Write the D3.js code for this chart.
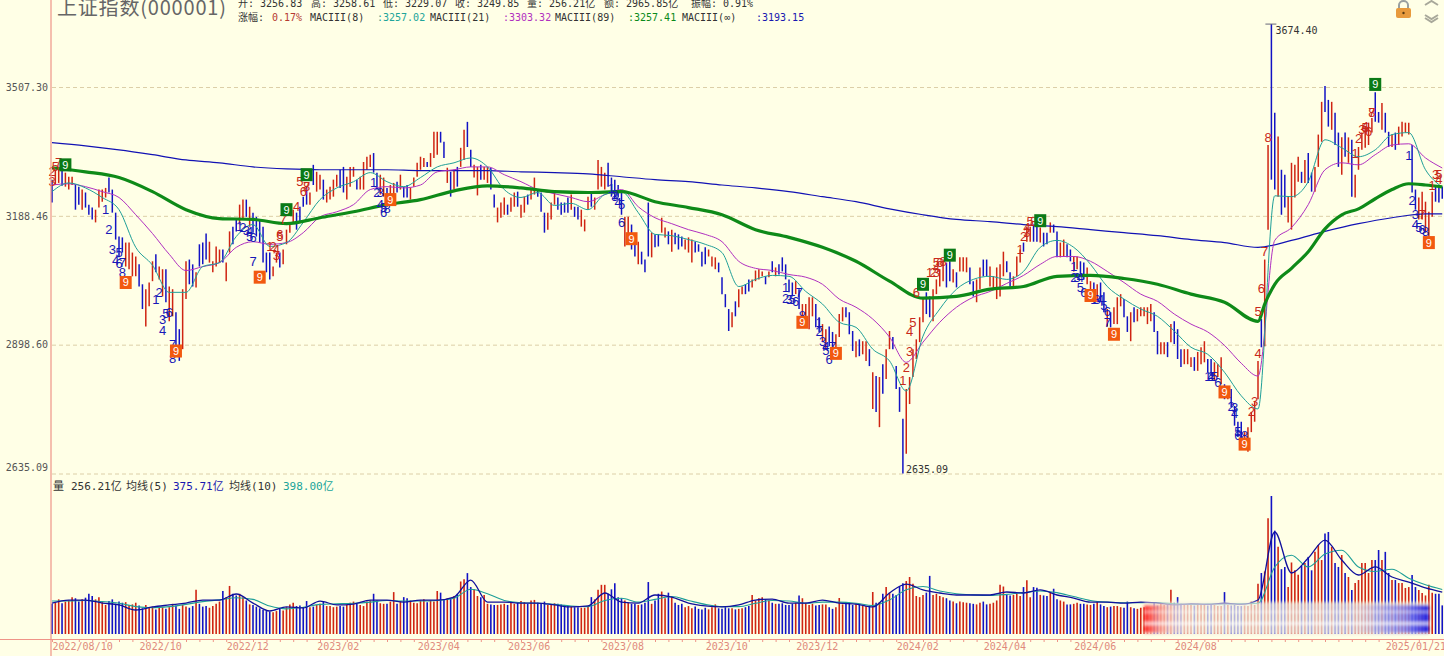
<!DOCTYPE html>
<html>
<head>
<meta charset="utf-8">
<script src="https://cdn.jsdelivr.net/npm/d3@7/dist/d3.min.js"></script>
<style>
  html, body {margin: 0; padding: 0; background: #ffffe6; overflow: hidden;}
  text {font-family: "DejaVu Sans Mono", "Noto Sans CJK SC", monospace;}
</style>
</head>
<body>
<div class="chart"></div>
<script>
// daily bars, ten per row
var highs = [
3275,3299,3304,3299,3292,3282,3282,3262,3258,3251,
3244,3215,3208,3203,3251,3251,3255,3280,3251,3196,
3140,3138,3126,3126,3103,3094,3076,3031,3020,3035,
3083,3099,3071,3065,3065,3026,3020,2969,2932,3020,
3083,3087,3076,3058,3122,3126,3147,3128,3083,3117,
3110,3110,3080,3152,3163,3180,3215,3227,3227,3210,
3196,3186,3180,3163,3103,3103,3071,3103,3103,3110,
3156,3173,3203,3196,3210,3234,3258,3244,3311,3294,
3287,3275,3251,3258,3275,3287,3299,3306,3282,3306,
3306,3275,3282,3318,3331,3336,3340,3292,3287,3280,
3255,3262,3267,3270,3287,3258,3262,3255,3280,3316,
3331,3328,3318,3340,3393,3393,3393,3368,3304,3294,
3299,3306,3353,3398,3418,3348,3311,3306,3311,3306,
3306,3304,3239,3208,3220,3232,3215,3232,3244,3246,
3215,3234,3239,3251,3280,3251,3244,3196,3196,3220,
3246,3232,3220,3220,3232,3239,3210,3210,3203,3180,
3234,3244,3232,3323,3306,3292,3316,3280,3275,3262,
3244,3186,3186,3168,3138,3128,3105,3087,3220,3149,
3145,3145,3184,3161,3152,3156,3149,3145,3140,3133,
3138,3133,3128,3122,3105,3115,3110,3094,3092,3080,
3047,3009,2976,2969,2993,3020,3026,3031,3042,3042,
3062,3065,3060,3049,3060,3083,3069,3076,3092,3076,
3042,3035,3038,3020,2987,2987,3002,3002,2987,2958,
2943,2932,2938,2926,2921,2965,2980,2980,2969,2928,
2906,2910,2906,2906,2889,2840,2832,2830,2857,2889,
2928,2915,2853,2809,2744,2805,2830,2889,2910,2958,
2998,3013,3004,3020,3042,3065,3087,3080,3083,3065,
3058,3092,3092,3092,3069,3038,3042,3069,3087,3087,
3071,3049,3069,3076,3105,3083,3058,3049,3094,3110,
3126,3163,3163,3168,3168,3161,3149,3149,3173,3168,
3152,3126,3133,3122,3110,3094,3094,3083,3080,3069,
3038,3035,3031,3035,3013,2976,2969,2980,3002,3009,
2998,2960,2969,2980,2976,2980,2980,2980,2987,2969,
2928,2904,2904,2904,2943,2949,2932,2889,2889,2889,
2872,2872,2883,2893,2906,2868,2868,2861,2857,2872,
2815,2809,2805,2770,2738,2738,2717,2727,2758,2778,
2864,2954,3087,3360,3674.40,3441,3381,3299,3287,3234,
3316,3311,3331,3294,3323,3340,3292,3306,3386,3469,
3510,3474,3469,3441,3391,3379,3391,3379,3373,3287,
3355,3391,3406,3416,3428,3494,3443,3466,3441,3393,
3386,3391,3406,3418,3416,3416,3360,3251,3232,3246,
3222,3198,3246,3262,3262,3258.61]

var lows = [
3220,3262,3267,3260,3258,3251,3262,3203,3215,3203,
3208,3191,3180,3173,3208,3222,3232,3244,3196,3133,
3092,3103,3071,3065,3049,3049,3026,2976,2938,2982,
3038,3058,3042,3004,2991,2949,2960,2895,2864,2889,
2998,3031,3026,3024,3071,3076,3087,3080,3058,3071,
3080,3080,3038,3103,3122,3152,3168,3180,3186,3163,
3149,3140,3126,3080,3058,3042,3049,3080,3069,3076,
3122,3149,3173,3156,3173,3210,3215,3215,3262,3246,
3251,3227,3220,3227,3234,3258,3255,3244,3227,3258,
3282,3251,3251,3251,3299,3306,3292,3251,3239,3234,
3210,3222,3232,3244,3251,3232,3232,3227,3258,3282,
3299,3306,3306,3306,3328,3336,3366,3328,3267,3234,
3251,3258,3306,3323,3355,3306,3280,3237,3275,3275,
3267,3251,3208,3173,3184,3191,3191,3198,3210,3210,
3184,3196,3215,3227,3239,3234,3198,3149,3156,3180,
3215,3203,3191,3196,3196,3203,3186,3180,3163,3152,
3203,3210,3203,3251,3258,3251,3258,3234,3227,3232,
3191,3117,3133,3110,3094,3076,3076,3058,3094,3092,
3115,3117,3149,3138,3122,3105,3122,3110,3117,3110,
3103,3080,3103,3105,3071,3076,3094,3071,3065,3058,
3009,2980,2928,2936,2960,2980,3009,3009,3015,3024,
3038,3042,3049,3031,3047,3058,3049,3053,3060,3042,
3013,3004,3009,2976,2938,2954,2932,2960,2936,2926,
2904,2889,2895,2889,2893,2915,2949,2958,2921,2885,
2872,2874,2878,2864,2853,2764,2758,2727,2795,2826,
2889,2889,2805,2758,2635.09,2674,2774,2830,2868,2904,
2947,2965,2958,2949,3009,3026,3038,3024,3038,3035,
3024,3060,3060,3058,3031,3004,2991,3020,3049,3049,
3026,3020,2998,3004,3049,3058,3026,3024,3049,3080,
3105,3128,3128,3128,3128,3126,3117,3122,3149,3149,
3092,3092,3094,3092,3083,3060,3065,3047,3042,3031,
3004,2991,2991,2991,2969,2938,2936,2943,2943,2982,
2958,2926,2906,2947,2949,2960,2960,2943,2949,2926,
2878,2878,2878,2872,2904,2900,2868,2851,2857,2857,
2851,2843,2843,2857,2861,2840,2832,2822,2830,2815,
2784,2784,2768,2730,2707,2703,2690,2678,2717,2738,
2784,2893,2895,3156,3275,3251,3234,3191,3208,3173,
3156,3232,3270,3267,3267,3267,3246,3246,3306,3368,
3443,3406,3398,3360,3306,3287,3331,3316,3234,3232,
3299,3348,3353,3360,3391,3418,3416,3398,3391,3355,
3355,3348,3360,3381,3391,3386,3244,3203,3180,3180,
3149,3140,3186,3222,3220,3229.07]

// r = up day, b = down day
var updown = 'brrbrrrbbr' + 'bbbrrrrbbb' + 'bbrrrrbbrr' + 'rbrrbrrbbr' + 'rbbrbbbrrr' +
  'rbrrbbrrbr' + 'bbbbbbrrbr' + 'rrrbbbbrbr' + 'rbrrrrbbrr' + 'rbrrrrbbrr' +
  'brrbrbbrrr' + 'rrbrrrbbrb' + 'rbrrbbrrbr' + 'rbbrrrbrrb' + 'rrbrrbbbrr' +
  'rbbbbrbbrr' + 'rbrrrrbbbb' + 'brrbbrbbbr' + 'bbrrbrbbbr' + 'rrbbbbrrrb' +
  'bbbrbrrbbr' + 'rrrbrbrbbb' + 'bbrbrrrrbb' + 'rrbbrrrbbb' + 'rbrrbrbrbr' +
  'rbbbbrrrrr' + 'rbbrrrrbbr' + 'brrrbbrrbb' + 'rrrrrbbrrr' + 'brrbbrbbrb' +
  'brrbbrrbbr' + 'rbrbbrbrrr' + 'bbrbrrrrrb' + 'brrbrbbbrr' + 'rbrrrbbrrr' +
  'brbbbbrrrr' + 'rbrrbbrbbr' + 'rrrbrbbrrr' + 'bbrbbrbrbr' + 'rrrrrbbrbb' +
  'rbrrrrbbrr' + 'rrrbbb'

// volume, in 亿
var volumes = [
270,280,310,275,290,300,330,320,290,310,
325,360,340,310,330,285,260,295,310,270,
290,280,285,260,265,280,255,230,260,235,
245,220,235,240,225,240,270,255,225,260,
245,235,250,395,270,245,250,235,250,270,
290,385,330,430,360,345,360,330,300,265,
260,245,230,215,205,200,195,205,225,210,
240,265,280,250,255,240,295,240,245,260,
270,290,250,250,240,245,250,245,260,280,
290,270,260,250,290,300,360,300,275,270,
270,290,375,270,295,330,320,300,280,275,
300,310,285,300,290,385,370,310,320,320,
340,360,470,490,545,420,400,340,330,350,
270,265,260,260,265,270,260,285,270,280,
295,285,270,300,305,280,270,290,260,265,
275,270,265,260,250,245,240,240,235,235,
245,330,310,395,440,440,360,400,455,330,
320,300,280,270,270,260,265,280,465,270,
300,360,380,320,370,330,280,260,270,240,
250,230,245,225,220,235,220,240,265,230,
225,240,230,230,220,225,230,240,250,350,
300,320,330,310,300,280,270,270,275,260,
260,270,280,345,320,280,260,270,255,260,
265,265,240,225,240,322,265,280,280,260,
270,265,255,250,255,376,280,285,360,420,
370,360,350,430,455,474,510,450,340,330,
350,370,520,350,360,340,330,320,300,290,
275,290,285,280,275,270,265,280,290,265,
270,280,300,440,425,350,345,350,360,340,
420,480,330,420,415,350,345,340,370,405,
310,300,290,265,265,270,280,270,270,265,
260,270,290,265,250,240,245,250,250,240,
235,290,240,230,225,235,240,225,230,280,
255,270,260,265,395,280,330,270,260,265,
260,255,270,265,260,255,260,260,250,250,
375,260,255,260,250,250,255,250,290,260,
450,546,560,1035,1235,925,780,580,600,420,
640,570,530,610,635,690,570,735,797,662,
900,913,780,635,600,707,546,510,394,456,
483,635,635,546,662,662,752,662,735,546,
483,483,456,456,412,420,528,420,394,367,
345,440,370,360,360,256.21]

// moving averages, one reading every 5 bars
var ma8 = [
3246,3267,3255,3232,3203,3115,3074,3013,3013,3071,
3080,3140,3168,3117,3126,3173,3227,3255,3270,3292,
3270,3258,3280,3306,3316,3328,3306,3251,3232,3244,
3213,3218,3203,3239,3246,3196,3145,3142,3133,3122,
3103,3026,3042,3051,3049,3015,2987,2947,2936,2889,
2864,2801,2917,2976,3020,3042,3049,3042,3060,3115,
3131,3115,3076,3026,2998,2976,2960,2928,2893,2878,
2840,2791,2764,3236,3234,3270,3373,3353,3331,3348,
3386,3391,3299,3257.02]
var ma21 = [
3262,3265,3258,3246,3232,3191,3147,3099,3062,3071,
3080,3115,3128,3122,3126,3149,3186,3198,3215,3251,
3258,3255,3262,3294,3299,3306,3306,3287,3270,3251,
3241,3232,3222,3239,3251,3210,3184,3170,3156,3145,
3128,3083,3067,3062,3053,3047,3031,2998,2980,2954,
2915,2861,2904,2947,2980,3002,3015,3033,3051,3076,
3094,3094,3083,3060,3035,3009,2993,2965,2943,2926,
2897,2859,2832,3131,3161,3215,3299,3316,3311,3336,
3360,3363,3328,3303.32]
// readings at the bars listed in ma89Bars
var ma89Bars = [
0,10,20,30,40,50,60,70,80,90,
100,110,120,130,140,150,160,170,180,190,
200,210,220,230,240,250,260,270,280,290,
300,310,320,330,340,350,360,362,365,370,
375,380,385,390,395,400,405,410,415]
var ma89 = [
3304,3294,3280,3246,3203,3182,3180,3170,3184,3198,
3215,3227,3248,3260,3255,3246,3244,3246,3222,3208,
3191,3156,3138,3115,3083,3038,3000,3004,3020,3026,
3049,3051,3044,3031,3009,2991,2949,2987,3031,3067,
3105,3158,3191,3205,3229,3251,3265,3262,3257.41]
// one reading every 10 bars
var maInf = [
3366,3358,3348,3336,3323,3316,3306,3301,3299,3299,
3299,3297,3297,3297,3294,3292,3289,3282,3275,3270,
3262,3255,3246,3234,3222,3205,3191,3180,3175,3168,
3163,3156,3149,3142,3133,3126,3115,3131,3152,3170,
3184,3193,3193.15]
// volume averages, every 5 bars
var volMa5 = [
277,304,304,277,260,215,242,260,277,304,
304,358,277,206,242,233,295,260,268,304,
304,286,304,304,331,483,286,286,277,277,
260,242,251,367,286,277,349,331,277,251,
242,260,304,313,277,277,304,277,268,242,
367,447,394,367,349,349,349,376,367,394,
349,322,286,286,277,286,277,260,270,265,
275,265,304,913,546,680,841,662,528,600,
510,465,412,375.71]
var volMa10 = [
295,295,300,290,275,245,235,245,265,290,
305,325,310,250,225,240,265,270,275,285,
300,295,295,300,320,400,360,300,280,275,
265,250,245,300,320,285,310,335,300,265,
245,245,275,300,295,275,285,285,275,255,
305,395,425,385,360,350,345,355,370,385,
370,335,300,285,280,280,280,270,265,268,
270,270,275,600,705,600,715,750,600,560,
580,500,440,398]

// nine-turn counts: [bar, price, digit]
var seqBlue = [
[16,3203,1],[17,3156,2],[18,3110,3],[19,3085,4],[20,3103,5],[20,3078,6],[21,3080,7],[21,3058,8],
[31,2998,1],[32,3013,2],[33,2954,3],[33,2930,4],[34,2967,5],[35,2969,6],[36,2900,7],[36,2870,8],
[56,3163,1],[57,3161,2],[58,3154,3],[59,3152,4],[59,3140,5],[60,3138,6],[60,3083,7],
[96,3267,1],[97,3244,2],[98,3244,3],[98,3215,4],[99,3208,5],[99,3196,6],[100,3205,8],
[167,3253,1],[168,3239,2],[168,3234,3],[169,3220,4],[170,3215,5],[170,3173,6],
[219,3024,1],[219,3000,2],[220,2998,3],[221,2998,5],[222,2993,6],[223,3013,7],[224,2963,8],
[229,2947,1],[229,2926,2],[230,2906,3],[231,2895,4],[231,2887,5],[232,2868,6],[233,2895,7],
[305,3071,1],[305,3047,2],[306,3047,3],[307,3047,4],[307,3024,5],[308,3013,6],
[311,2998,1],[312,2998,3],[313,2998,4],[314,2984,5],[315,2971,6],[315,2947,7],
[345,2832,1],[346,2832,2],[346,2832,4],[347,2832,5],[348,2818,6],
[351,2795,1],[352,2770,2],[353,2768,3],[353,2754,4],[354,2719,5],[354,2711,6],[356,2711,8],
[405,3333,1],[406,3224,2],[407,3191,3],[407,3168,4],[408,3161,5],[409,3156,6],[410,3152,8]]
var seqRed = [
[0,3270,3],[0,3294,2],[1,3306,5],[2,3318,7],
[65,3117,1],[66,3117,2],[67,3097,3],[67,3110,4],[68,3140,5],[68,3145,6],[69,3180,7],
[73,3210,4],[74,3270,5],[75,3246,6],[76,3258,7],[76,3258,8],
[254,2822,1],[255,2851,2],[256,2885,3],[256,2926,4],[257,2947,5],[258,3013,6],
[262,3058,1],[263,3058,2],[264,3058,3],[264,3069,4],[264,3080,5],[265,3080,6],[266,3083,8],
[289,3110,1],[290,3140,2],[291,3149,3],[291,3161,4],[292,3175,5],[293,3175,8],
[358,2758,2],[359,2780,3],[360,2880,4],[360,2971,5],[361,3022,6],[362,3105,7],[363,3379,8],
[389,3338,1],[390,3376,2],[391,3398,3],[392,3406,4],[392,3403,5],[393,3393,6],[394,3441,7],[394,3443,8],
[409,3191,7],[412,3262,1],[413,3287,3],[414,3275,4],[414,3287,5]]
var nineGreen = [[4,3311],[70,3203],[76,3287],[260,3031],[268,3097],[295,3177],[395,3514]]
var nineOrange = [[22,3035],[37,2885],[62,3047],[101,3227],[173,3135],[224,2947],[234,2880],[310,3006],[317,2921],[350,2799],[356,2693],[411,3126]]

var priceTicks = [3507.30, 3188.46, 2898.60, 2635.09]
var dateIdx = [0, 26, 52, 79, 109, 136, 164, 195, 222, 252, 278, 305, 335, 398]
var dateLabels = ['2022/08/10','2022/10','2022/12','2023/02','2023/04','2023/06','2023/08','2023/10','2023/12','2024/02','2024/04','2024/06','2024/08','2025/01/21']

var headerTop = [
  ['开: 3256.83', 238], ['高: 3258.61', 311], ['低: 3229.07', 383], ['收: 3249.85', 455],
  ['量: 256.21亿', 527], ['额: 2965.85亿', 604], ['振幅: 0.91%', 691]]
var headerRow = [
  ['涨幅:', 238, '#333'], ['0.17%', 272, '#b53a30'], ['MACIII(8)', 310, '#333'], [':3257.02', 377, '#20a49a'],
  ['MACIII(21)', 430, '#333'], [':3303.32', 503, '#b030c0'], ['MACIII(89)', 555, '#333'], [':3257.41', 628, '#0a8a1a'],
  ['MACIII(∞)', 682, '#333'], [':3193.15', 756, '#1818b0']]
var volHeader = [
  ['量', 53, '#333'], ['256.21亿', 71, '#333'], ['均线(5)', 126, '#333'], ['375.71亿', 173, '#1818b0'],
  ['均线(10)', 229, '#333'], ['398.00亿', 283, '#20a49a']]

var width = 1444
var height = 656
var red = '#cf2412'
var blue = '#1212c4'
var pink = '#ef9488'

var svg = d3.select('div.chart').append('svg')
    .attr('width', width)
    .attr('height', height)
    .style('display', 'block')
    .style('background', '#ffffe6')

var x_scale = d3.scaleLinear().domain([0, highs.length - 1]).range([52, 1442.25])
var y_scale = d3.scaleLog().domain([2635.09, 3507.30]).range([473.5, 87])
var vol_scale = d3.scaleLinear().domain([0, 1235]).range([634, 496])

//price axis with the dashed grid
var y_axis = d3.axisLeft(y_scale)
    .tickValues(priceTicks)
    .tickSizeInner(-(width - 52))
    .tickSizeOuter(0)
    .tickPadding(4)
    .tickFormat(d3.format('.2f'))
var yg = svg.append('g').attr('class', 'y-axis').attr('transform', 'translate(52,0)').call(y_axis)
yg.select('.domain').remove()
yg.selectAll('line').attr('stroke', '#dccfa8').attr('stroke-dasharray', '4,3')
yg.selectAll('text')
    .attr('fill', '#555')
    .style('font-size', '10px')
    .attr('dy', function(d){ return d == 2635.09 ? '-0.35em' : '0.32em' })

//volume bars
svg.append('g').selectAll('line')
    .data(volumes)
    .enter().append('line')
    .attr('x1', function(d, i){ return x_scale(i) })
    .attr('x2', function(d, i){ return x_scale(i) })
    .attr('y1', vol_scale(0))
    .attr('y2', function(d){ return vol_scale(d) })
    .attr('stroke', function(d, i){ return updown[i] == 'r' ? red : blue })
    .attr('stroke-width', 1.6)

// step is a bar gap, or the list of bars the readings belong to
function stepLine(series, step, scale){
  return d3.line()
    .x(function(d, i){
      var bar = typeof step == 'number' ? Math.min(i * step, highs.length - 1) : step[i]
      return x_scale(bar)
    })
    .y(function(d){ return scale(d) })
    .curve(d3.curveMonotoneX)(series)
}

svg.append('path').attr('d', stepLine(volMa10, 5, vol_scale))
    .attr('fill', 'none').attr('stroke', '#1f9f98').attr('stroke-width', 1.1)
svg.append('path').attr('d', stepLine(volMa5, 5, vol_scale))
    .attr('fill', 'none').attr('stroke', '#10109c').attr('stroke-width', 1.3)

//smudged watermark over the volume bars
var defs = svg.append('defs')
defs.append('filter').attr('id', 'smear').attr('x', '-5%').attr('y', '-20%').attr('width', '110%').attr('height', '140%')
    .append('feGaussianBlur').attr('stdDeviation', '1.6 1.6')
var gr = defs.append('linearGradient').attr('id', 'smudge')
gr.append('stop').attr('offset', '0').attr('stop-color', '#ff1e1e').attr('stop-opacity', 0.95)
gr.append('stop').attr('offset', '0.08').attr('stop-color', '#ff8c80').attr('stop-opacity', 0.35)
gr.append('stop').attr('offset', '0.18').attr('stop-color', '#ffffff').attr('stop-opacity', 0)
gr.append('stop').attr('offset', '0.75').attr('stop-color', '#6a6af0').attr('stop-opacity', 0.08)
gr.append('stop').attr('offset', '0.92').attr('stop-color', '#4040f0').attr('stop-opacity', 0.55)
gr.append('stop').attr('offset', '1').attr('stop-color', '#1414e0').attr('stop-opacity', 0.95)
var smear = svg.append('g').attr('filter', 'url(#smear)')
smear.append('rect').attr('x', 1144).attr('y', 602).attr('width', 285).attr('height', 33).attr('fill', '#f2efe2').attr('opacity', 0.72)
smear.append('rect').attr('x', 1144).attr('y', 605).attr('width', 285).attr('height', 28).attr('fill', 'url(#smudge)')
smear.append('rect').attr('x', 1144).attr('y', 611).attr('width', 285).attr('height', 2).attr('fill', '#fff').attr('opacity', 0.5)
smear.append('rect').attr('x', 1144).attr('y', 622).attr('width', 285).attr('height', 3).attr('fill', '#fff').attr('opacity', 0.7)

//price bars
svg.append('g').selectAll('line')
    .data(highs)
    .enter().append('line')
    .attr('x1', function(d, i){ return x_scale(i) })
    .attr('x2', function(d, i){ return x_scale(i) })
    .attr('y1', function(d){ return y_scale(d) })
    .attr('y2', function(d, i){ return y_scale(lows[i]) })
    .attr('stroke', function(d, i){ return updown[i] == 'r' ? red : blue })
    .attr('stroke-width', 1.5)

//averages
svg.append('path').attr('d', stepLine(maInf, 10, y_scale))
    .attr('fill', 'none').attr('stroke', '#1212b4').attr('stroke-width', 1.2)
svg.append('path').attr('d', stepLine(ma21, 5, y_scale))
    .attr('fill', 'none').attr('stroke', '#b030c0').attr('stroke-width', 1)
svg.append('path').attr('d', stepLine(ma8, 5, y_scale))
    .attr('fill', 'none').attr('stroke', '#1f9f98').attr('stroke-width', 1)
svg.append('path').attr('d', stepLine(ma89, ma89Bars, y_scale))
    .attr('fill', 'none').attr('stroke', '#0e8a18').attr('stroke-width', 3.2)

//counts
function digits(rows, color){
  svg.append('g').selectAll('text')
    .data(rows)
    .enter().append('text')
    .attr('x', function(d){ return x_scale(d[0]) })
    .attr('y', function(d){ return y_scale(d[1]) })
    .attr('dy', '0.35em')
    .attr('text-anchor', 'middle')
    .attr('fill', color)
    .style('font-family', '"Liberation Sans"')
    .style('font-size', '13px')
    .text(function(d){ return d[2] })
}
digits(seqBlue, '#1818b8')
digits(seqRed, '#c8281a')

function nines(rows, color){
  var g = svg.append('g').selectAll('g')
    .data(rows)
    .enter().append('g')
    .attr('transform', function(d){ return 'translate(' + x_scale(d[0]) + ',' + y_scale(d[1]) + ')' })
  g.append('rect').attr('x', -6).attr('y', -6.5).attr('width', 12).attr('height', 13).attr('fill', color)
  g.append('text').attr('text-anchor', 'middle').attr('dy', '0.36em').attr('fill', '#fff')
    .style('font-family', '"Liberation Sans"').style('font-size', '11px').text('9')
}
nines(nineGreen, '#0b7a16')
nines(nineOrange, '#f2590f')

//extreme labels
var hiIdx = d3.maxIndex(highs)
var loIdx = d3.minIndex(lows)
svg.append('line')
    .attr('x1', x_scale(hiIdx) - 6).attr('x2', x_scale(hiIdx) + 5)
    .attr('y1', y_scale(highs[hiIdx])).attr('y2', y_scale(highs[hiIdx]))
    .attr('stroke', '#667').attr('stroke-width', 1)
svg.append('text').attr('x', x_scale(hiIdx) + 4).attr('y', y_scale(highs[hiIdx]) + 10)
    .attr('fill', '#333').style('font-size', '10px').text(highs[hiIdx].toFixed(2))
svg.append('text').attr('x', x_scale(loIdx) + 3).attr('y', y_scale(lows[loIdx]) - 0.5)
    .attr('fill', '#333').style('font-size', '10px').text(lows[loIdx].toFixed(2))

//frame
svg.append('line').attr('x1', 51).attr('x2', 51).attr('y1', 0).attr('y2', height)
    .attr('stroke', pink).attr('stroke-width', 1.2)
svg.append('line').attr('x1', 0).attr('x2', width).attr('y1', 639.5).attr('y2', 639.5)
    .attr('stroke', pink).attr('stroke-width', 1)

//date axis
var minor = d3.axisBottom(x_scale).tickValues(d3.range(0, highs.length, 4)).tickSize(2).tickFormat('')
var mg = svg.append('g').attr('transform', 'translate(0,640)').call(minor)
mg.select('.domain').remove()
mg.selectAll('line').attr('stroke', pink)

var x_axis = d3.axisBottom(x_scale)
    .tickValues(dateIdx)
    .tickSize(0)
    .tickPadding(3)
    .tickFormat(function(d, i){ return dateLabels[i] })
var xg = svg.append('g').attr('class', 'x-axis').attr('transform', 'translate(0,640)').call(x_axis)
xg.select('.domain').remove()
xg.selectAll('text')
    .attr('text-anchor', 'start')
    .attr('fill', '#e08a7c')
    .style('font-size', '10px')

//titles
svg.append('text').attr('x', 57).attr('y', 15).attr('fill', '#666')
    .attr('textLength', 169).attr('lengthAdjust', 'spacing')
    .style('font-size', '20px').style('font-family', '"Noto Sans CJK SC"').text('上证指数(000001)')

svg.append('g').selectAll('text')
    .data(headerTop).enter().append('text')
    .attr('x', function(d){ return d[1] }).attr('y', 7).attr('fill', '#333')
    .style('font-size', '10px').text(function(d){ return d[0] })
svg.append('g').selectAll('text')
    .data(headerRow).enter().append('text')
    .attr('x', function(d){ return d[1] }).attr('y', 21).attr('fill', function(d){ return d[2] })
    .style('font-size', '10px').text(function(d){ return d[0] })
svg.append('g').selectAll('text')
    .data(volHeader).enter().append('text')
    .attr('x', function(d){ return d[1] }).attr('y', 490).attr('fill', function(d){ return d[2] })
    .style('font-size', '11px').text(function(d){ return d[0] })

//lock and arrows
svg.append('rect').attr('x', 1396).attr('y', 8).attr('width', 15).attr('height', 10).attr('rx', 2).attr('fill', '#e89a3c')
svg.append('path').attr('d', 'M1399,8 V5 a4.5,4 0 0 1 9,0 V8').attr('fill', 'none').attr('stroke', '#9aa0a0').attr('stroke-width', 2)
svg.append('circle').attr('cx', 1403.5).attr('cy', 13).attr('r', 1.2).attr('fill', '#5a3a10')
svg.append('path')
    .attr('d', 'M1425,5 L1431.5,1 L1438,5 M1425,15 L1431.5,19 L1438,15 M1425,18 L1431.5,22 L1438,18')
    .attr('fill', 'none').attr('stroke', '#a8a89a').attr('stroke-width', 2)
</script>
</body>
</html>
